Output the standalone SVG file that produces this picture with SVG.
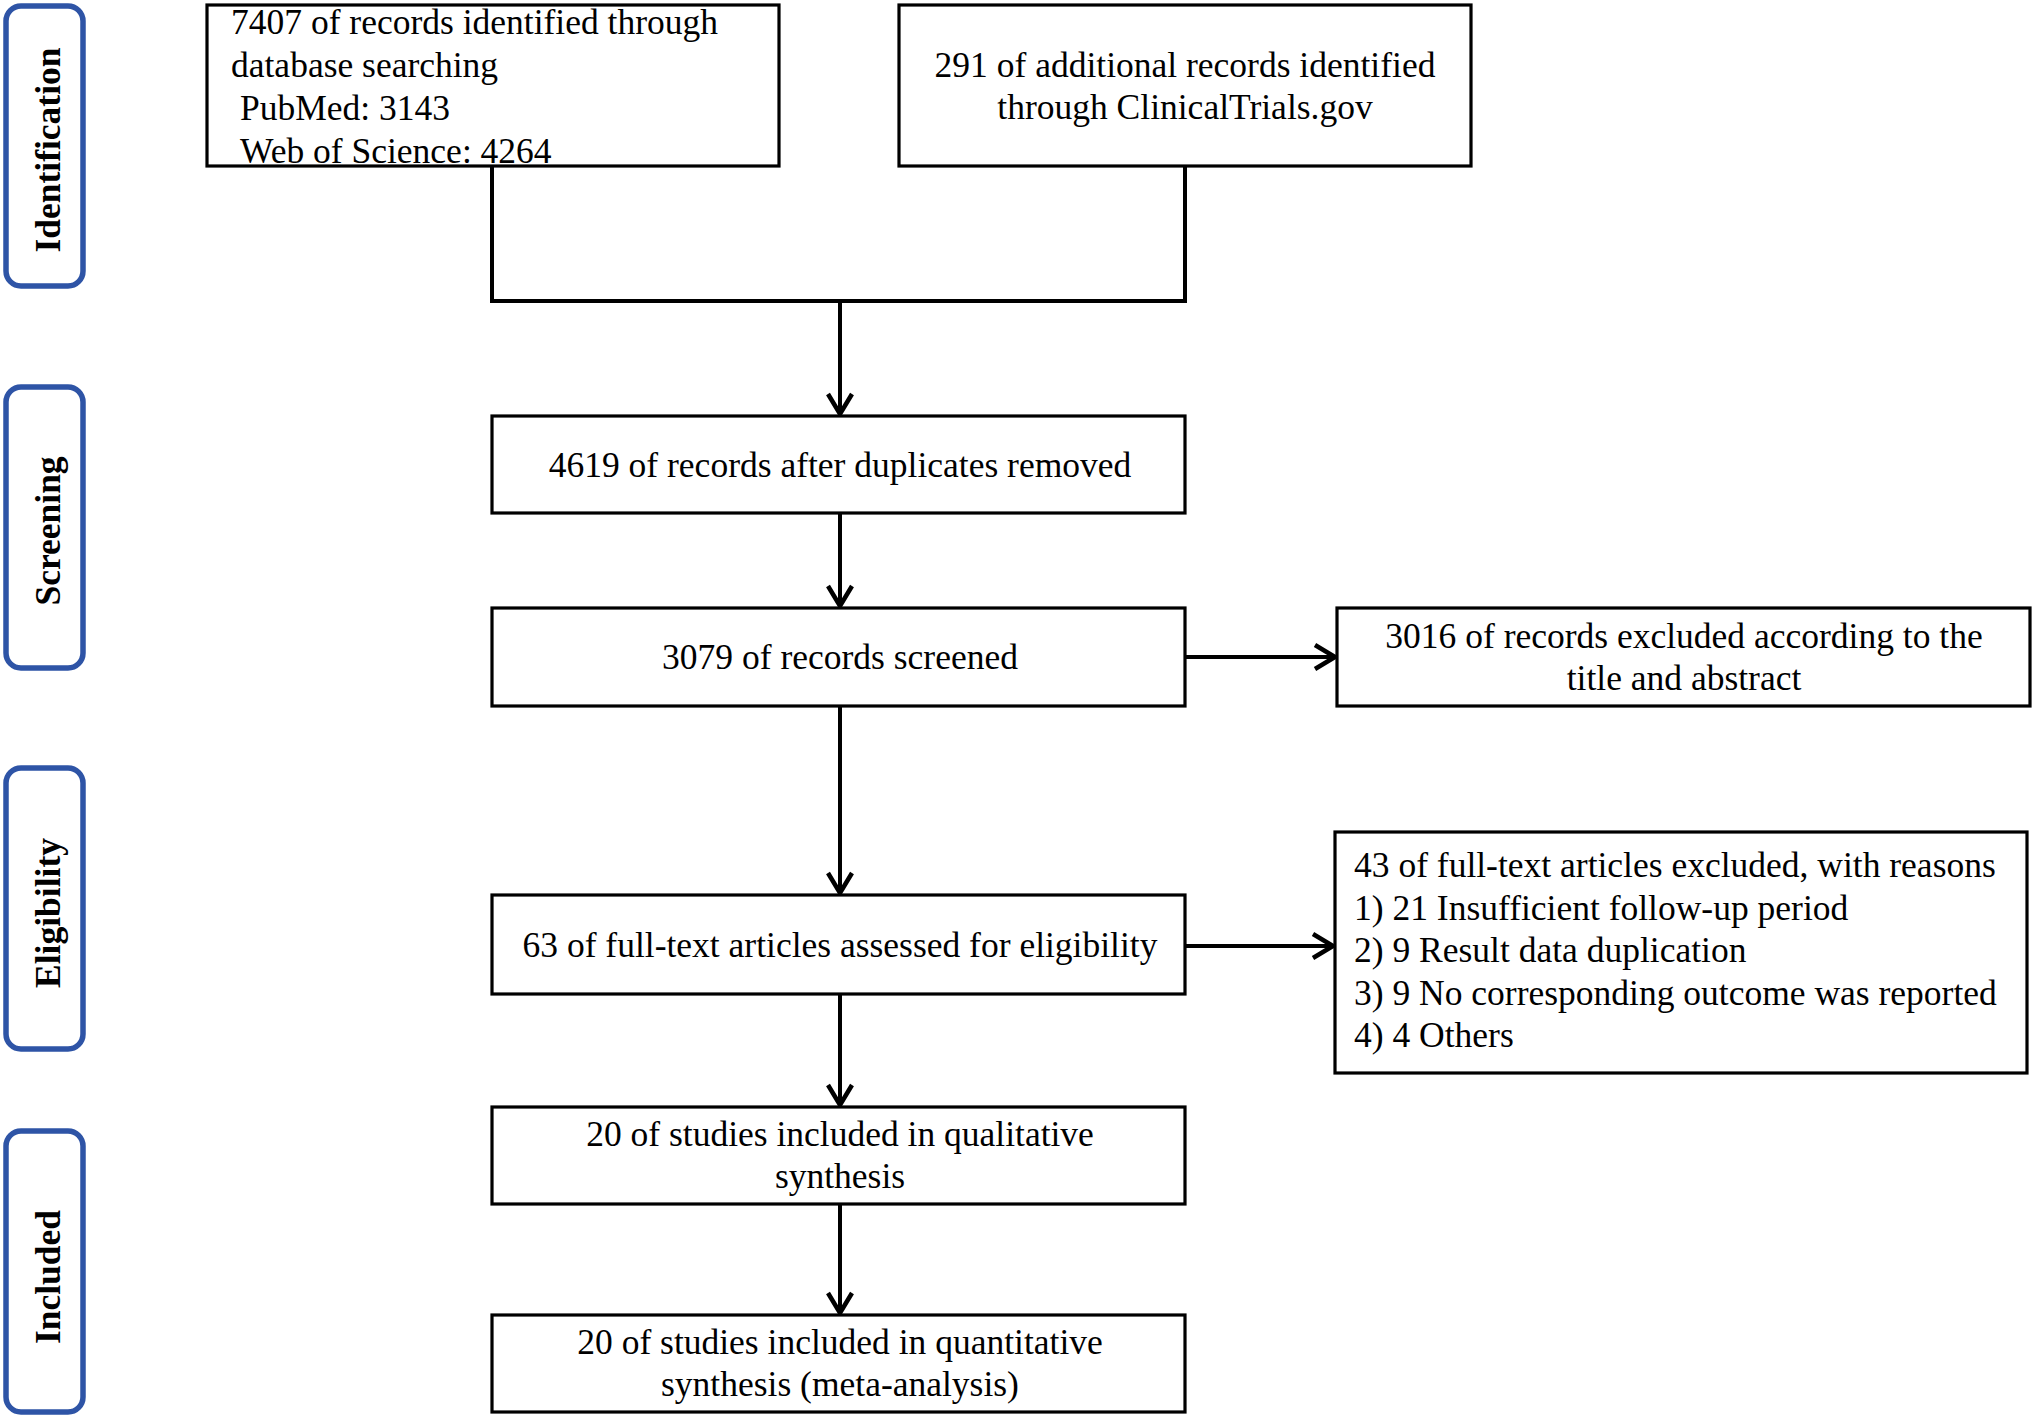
<svg xmlns="http://www.w3.org/2000/svg" width="2032" height="1418" viewBox="0 0 2032 1418">
<style>
.box{fill:#fff;stroke:#000;stroke-width:3.2}
.stage{fill:#fff;stroke:#2E54A6;stroke-width:5.5}
.t{font-family:"Liberation Serif","Times New Roman",serif;font-size:35.5px;fill:#000}
.c{text-anchor:middle}
.st{font-family:"Liberation Serif","Times New Roman",serif;font-size:35.5px;font-weight:bold;fill:#000;text-anchor:middle}
.ln{fill:none;stroke:#000;stroke-width:4}
</style>
<defs>
<marker id="ah" viewBox="-24 -16 28 32" refX="0" refY="0" markerWidth="28" markerHeight="32" markerUnits="userSpaceOnUse" orient="auto">
<path d="M -20 -12 L 0 0 L -20 12" fill="none" stroke="#000" stroke-width="4.5"/>
</marker>
</defs>
<rect width="2032" height="1418" fill="#fff"/>
<g id="stage-identification">
<rect class="stage" x="6" y="6" width="77" height="280" rx="15"/>
<text class="st" transform="translate(60,150) rotate(-90)">Identification</text>
</g>
<g id="stage-screening">
<rect class="stage" x="6" y="387" width="77" height="281" rx="15"/>
<text class="st" transform="translate(60,531) rotate(-90)">Screening</text>
</g>
<g id="stage-eligibility">
<rect class="stage" x="6" y="768" width="77" height="281" rx="15"/>
<text class="st" transform="translate(60,913) rotate(-90)">Eligibility</text>
</g>
<g id="stage-included">
<rect class="stage" x="6" y="1131" width="77" height="281" rx="15"/>
<text class="st" transform="translate(60,1277) rotate(-90)">Included</text>
</g>
<g id="connectors">
<polyline class="ln" points="492,166 492,301 1185,301 1185,166"/>
<line class="ln" x1="840" y1="301" x2="840" y2="414" marker-end="url(#ah)"/>
<line class="ln" x1="840" y1="513" x2="840" y2="606" marker-end="url(#ah)"/>
<line class="ln" x1="1185" y1="657" x2="1335" y2="657" marker-end="url(#ah)"/>
<line class="ln" x1="840" y1="706" x2="840" y2="893" marker-end="url(#ah)"/>
<line class="ln" x1="1185" y1="946" x2="1333" y2="946" marker-end="url(#ah)"/>
<line class="ln" x1="840" y1="994" x2="840" y2="1105" marker-end="url(#ah)"/>
<line class="ln" x1="840" y1="1204" x2="840" y2="1313" marker-end="url(#ah)"/>
</g>
<g id="node-database">
<rect class="box" x="207" y="5" width="572" height="161"/>
<text class="t" x="231" y="34">7407 of records identified through</text>
<text class="t" x="231" y="77">database searching</text>
<text class="t" x="240" y="120">PubMed: 3143</text>
<text class="t" x="240" y="163">Web of Science: 4264</text>
</g>
<g id="node-clinicaltrials">
<rect class="box" x="899" y="5" width="572" height="161"/>
<text class="t c" x="1185" y="77">291 of additional records identified</text>
<text class="t c" x="1185" y="119">through ClinicalTrials.gov</text>
</g>
<g id="node-duplicates">
<rect class="box" x="492" y="416" width="693" height="97"/>
<text class="t c" x="840" y="477">4619 of records after duplicates removed</text>
</g>
<g id="node-screened">
<rect class="box" x="492" y="608" width="693" height="98"/>
<text class="t c" x="840" y="669">3079 of records screened</text>
</g>
<g id="node-excluded-title">
<rect class="box" x="1337" y="608" width="693" height="98"/>
<text class="t c" x="1684" y="648">3016 of records excluded according to the</text>
<text class="t c" x="1684" y="690">title and abstract</text>
</g>
<g id="node-fulltext">
<rect class="box" x="492" y="895" width="693" height="99"/>
<text class="t c" x="840" y="957">63 of full-text articles assessed for eligibility</text>
</g>
<g id="node-excluded-fulltext">
<rect class="box" x="1335" y="832" width="692" height="241"/>
<text class="t" x="1354" y="877">43 of full-text articles excluded, with reasons</text>
<text class="t" x="1354" y="920">1) 21 Insufficient follow-up period</text>
<text class="t" x="1354" y="962">2) 9 Result data duplication</text>
<text class="t" x="1354" y="1005">3) 9 No corresponding outcome was reported</text>
<text class="t" x="1354" y="1047">4) 4 Others</text>
</g>
<g id="node-qualitative">
<rect class="box" x="492" y="1107" width="693" height="97"/>
<text class="t c" x="840" y="1146">20 of studies included in qualitative</text>
<text class="t c" x="840" y="1188">synthesis</text>
</g>
<g id="node-quantitative">
<rect class="box" x="492" y="1315" width="693" height="97"/>
<text class="t c" x="840" y="1354">20 of studies included in quantitative</text>
<text class="t c" x="840" y="1396">synthesis (meta-analysis)</text>
</g>
</svg>
